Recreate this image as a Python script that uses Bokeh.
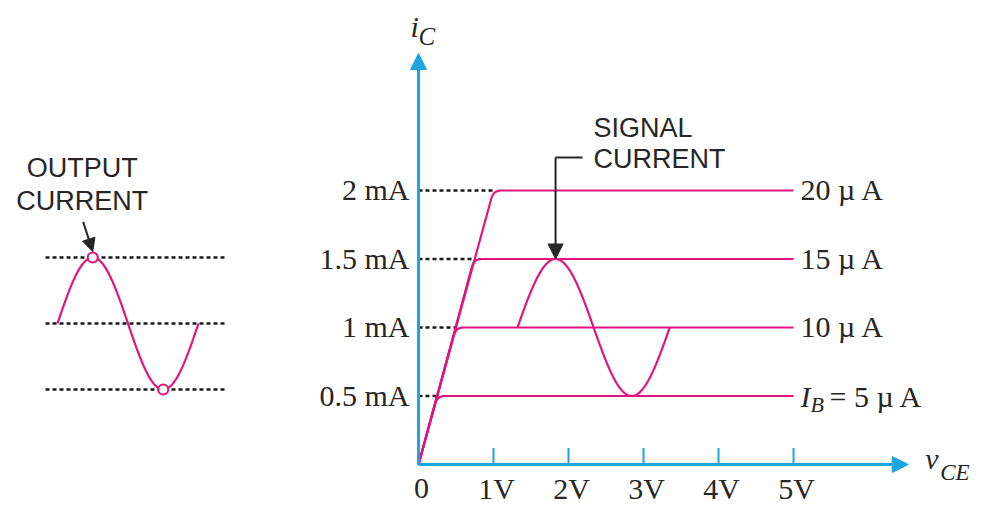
import numpy as np
from bokeh.plotting import figure
from bokeh.models import Range1d, Arrow, NormalHead
from bokeh.core.properties import value
from bokeh.embed import file_html
from bokeh.resources import INLINE

# ---------------- data ----------------
ic_levels = [0.5, 1.0, 1.5, 2.0]            # collector current levels, mA
knee_v = [0.25, 0.5, 0.74, 1.0]             # V_CE where each curve flattens
ib_values = ["5 µ A", "10 µ A", "15 µ A", "20 µ A"]
v_end = 5.0                                  # curves drawn up to 5 V
v_ticks = [0, 1, 2, 3, 4, 5]
v_tick_labels = ["0", "1V", "2V", "3V", "4V", "5V"]
ic_tick_labels = ["0.5 mA", "1 mA", "1.5 mA", "2 mA"]
axis_v_max = 6.53                            # x-axis arrow tip (V)
axis_i_max = 3.0                             # y-axis arrow tip (mA)
tick_len = 0.12                              # mA

# signal current swing drawn on the characteristics
sig_center = 1.0      # mA
sig_amp = 0.5         # mA
sig_start_v = 1.32    # V
sig_period_v = 2.03   # V

# output current waveform (left sketch), one cycle
out_center = 1.0
out_amp = 0.5
out_levels = [0.5, 1.0, 1.5]
out_marks = [0.25, 0.75]          # phases of the marked peak and trough

# ---------------- styling ----------------
PINK = "#e0157f"
BLUE = "#1ea5de"
DARK = "#262626"
DASH = "#1a1a1a"
SERIF = value("Liberation Serif")
SANS = value("Liberation Sans")
SERIF_SIZE = "30px"
SANS_SIZE = "27px"
DY = -10   # baseline correction for the text glyphs

W, H = 987, 512
p = figure(width=W, height=H, output_backend="svg", toolbar_location=None,
           x_axis_type=None, y_axis_type=None, min_border=0,
           x_range=Range1d(-418 / 75, (W - 418) / 75),
           y_range=Range1d((464 - H) / 137, 464 / 137))
p.outline_line_color = None
p.background_fill_color = "white"
p.border_fill_color = "white"
p.xgrid.visible = False
p.ygrid.visible = False
p.extra_x_ranges = {"wave": Range1d(-57 / 141, (W - 57) / 141)}
p.extra_y_ranges = {"wave": Range1d(1 - (H - 323) / 132, 1 + 323 / 132)}

# ---------------- left sketch: output current ----------------
p.segment(x0=[-0.085] * 3, x1=[1.206] * 3, y0=out_levels, y1=out_levels,
          line_color=DASH, line_width=2.5, line_dash="4 3",
          x_range_name="wave", y_range_name="wave")
ph = np.linspace(0, 1, 160)
p.line(ph, out_center + out_amp * np.sin(2 * np.pi * ph), line_color=PINK,
       line_width=2.2, x_range_name="wave", y_range_name="wave")
mark_y = [out_center + out_amp * np.sin(2 * np.pi * m) for m in out_marks]
p.scatter(out_marks, mark_y, marker="circle", size=10, fill_color="white",
          line_color=PINK, line_width=2, x_range_name="wave", y_range_name="wave")
arr_x0, arr_y0 = out_marks[0] - 0.068, mark_y[0] + 0.27
p.add_layout(Arrow(end=NormalHead(size=13, fill_color=DARK, line_color=DARK),
                   x_start=arr_x0, y_start=arr_y0,
                   x_end=out_marks[0], y_end=mark_y[0] + 0.045,
                   line_color=DARK, line_width=2,
                   x_range_name="wave", y_range_name="wave"))
p.text(x=[arr_x0, arr_x0], y=[arr_y0, arr_y0], text=["OUTPUT", "CURRENT"],
       x_offset=-1, y_offset=[-44 + DY, -11 + DY], text_font=SANS,
       text_font_size=SANS_SIZE, text_align="center", text_baseline="alphabetic",
       text_color=DARK, x_range_name="wave", y_range_name="wave")

# ---------------- characteristics ----------------
# dotted guides from the i_C axis
p.segment(x0=[0] * 4, x1=knee_v, y0=ic_levels, y1=ic_levels,
          line_color=DASH, line_width=2.5, line_dash="4 3")

t = np.linspace(0, 1, 14)
xs, ys = [], []
r_i, r_v = 0.06, 0.1
for ic, kv in zip(ic_levels, knee_v):
    ax, ay = kv * (1 - r_i / ic), ic - r_i
    bx, by = kv + r_v, ic
    cx = (1 - t) ** 2 * ax + 2 * (1 - t) * t * kv + t ** 2 * bx
    cy = (1 - t) ** 2 * ay + 2 * (1 - t) * t * ic + t ** 2 * by
    xs.append([0.0, *cx, v_end])
    ys.append([0.0, *cy, ic])
p.multi_line(xs, ys, line_color=PINK, line_width=2.2)

# signal current
sv = np.linspace(sig_start_v, sig_start_v + sig_period_v, 200)
p.line(sv, sig_center + sig_amp * np.sin(2 * np.pi * (sv - sig_start_v) / sig_period_v),
       line_color=PINK, line_width=2.2)

# signal current pointer
peak_v = sig_start_v + sig_period_v / 4
peak_i = sig_center + sig_amp
brk_i = 2.24
brk_v = peak_v + 0.36
p.line([brk_v, peak_v], [brk_i, brk_i], line_color=DARK, line_width=2)
p.add_layout(Arrow(end=NormalHead(size=15, fill_color=DARK, line_color=DARK),
                   x_start=peak_v, y_start=brk_i, x_end=peak_v, y_end=peak_i,
                   line_color=DARK, line_width=2))
p.text(x=[brk_v, brk_v], y=[brk_i, brk_i], text=["SIGNAL", "CURRENT"],
       x_offset=11, y_offset=[-20 + DY, 11 + DY], text_font=SANS,
       text_font_size=SANS_SIZE, text_align="left", text_baseline="alphabetic",
       text_color=DARK)

# axes (blue arrows)
p.add_layout(Arrow(end=NormalHead(size=16, fill_color=BLUE, line_color=BLUE),
                   x_start=0, y_start=0, x_end=0, y_end=axis_i_max,
                   line_color=BLUE, line_width=3))
p.add_layout(Arrow(end=NormalHead(size=16, fill_color=BLUE, line_color=BLUE),
                   x_start=0, y_start=0, x_end=axis_v_max, y_end=0,
                   line_color=BLUE, line_width=3))
p.segment(x0=v_ticks[1:], x1=v_ticks[1:], y0=[0] * 5, y1=[tick_len] * 5,
          line_color=BLUE, line_width=2)

# tick labels
p.text(x=v_ticks, y=[0] * len(v_ticks), text=v_tick_labels, x_offset=3,
       y_offset=34 + DY, text_font=SERIF, text_font_size=SERIF_SIZE,
       text_align="center", text_baseline="alphabetic", text_color=DARK)
p.text(x=[0] * 4, y=ic_levels, text=ic_tick_labels, x_offset=-9, y_offset=9 + DY,
       text_font=SERIF, text_font_size=SERIF_SIZE, text_align="right",
       text_baseline="alphabetic", text_color=DARK)

# curve labels
p.text(x=[v_end] * 3, y=ic_levels[1:], text=ib_values[1:], x_offset=7, y_offset=9 + DY,
       text_font=SERIF, text_font_size=SERIF_SIZE, text_align="left",
       text_baseline="alphabetic", text_color=DARK)
p.text(x=[v_end], y=[ic_levels[0]], text=["I"], x_offset=7, y_offset=10 + DY,
       text_font=SERIF, text_font_style="italic", text_font_size=SERIF_SIZE,
       text_baseline="alphabetic", text_color=DARK)
p.text(x=[v_end], y=[ic_levels[0]], text=["B"], x_offset=17, y_offset=18 + DY,
       text_font=SERIF, text_font_style="italic", text_font_size="22px",
       text_baseline="alphabetic", text_color=DARK)
p.text(x=[v_end], y=[ic_levels[0]], text=["= " + ib_values[0]], x_offset=36,
       y_offset=10 + DY, text_font=SERIF, text_font_size=SERIF_SIZE,
       text_baseline="alphabetic", text_color=DARK)

# axis titles
p.text(x=[0], y=[axis_i_max], text=["i"], x_offset=-8, y_offset=-17 + DY,
       text_font=SERIF, text_font_style="italic", text_font_size=SERIF_SIZE,
       text_baseline="alphabetic", text_color=DARK)
p.text(x=[0], y=[axis_i_max], text=["C"], x_offset=0, y_offset=-7 + DY,
       text_font=SERIF, text_font_style="italic", text_font_size="25px",
       text_baseline="alphabetic", text_color=DARK)
p.text(x=[axis_v_max], y=[0], text=["v"], x_offset=17, y_offset=4 + DY,
       text_font=SERIF, text_font_style="italic", text_font_size=SERIF_SIZE,
       text_baseline="alphabetic", text_color=DARK)
p.text(x=[axis_v_max], y=[0], text=["CE"], x_offset=32, y_offset=18 + DY,
       text_font=SERIF, text_font_style="italic", text_font_size="23px",
       text_baseline="alphabetic", text_color=DARK)

open("out.html", "w").write(file_html(p, INLINE))
